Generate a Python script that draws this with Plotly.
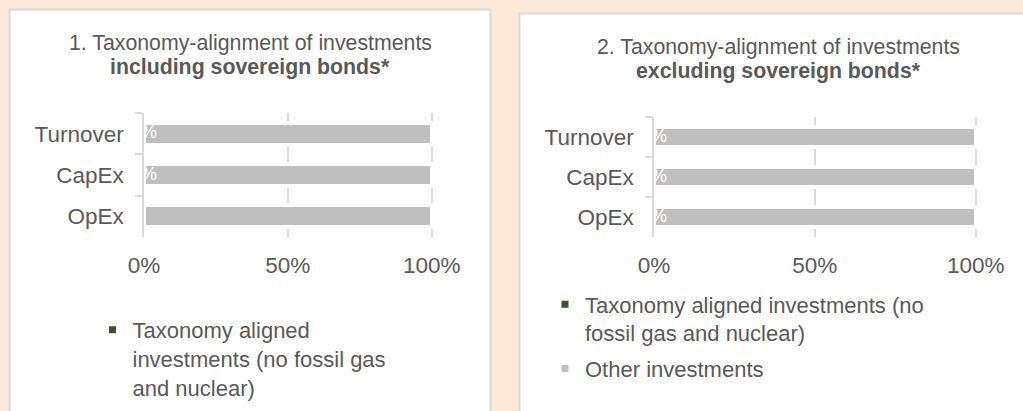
import plotly.graph_objects as go

W, H = 1023, 411

# ---------------- data ----------------
categories = ["Turnover", "CapEx", "OpEx"]
aligned_incl = [0, 0, 0]
other_incl = [100, 100, 100]
labels_incl = ["0%", "0%", ""]
aligned_excl = [0, 0, 0]
other_excl = [100, 100, 100]
labels_excl = ["0%", "0%", "0%"]
x_tickvals = [0, 50, 100]
x_ticktext = ["0%", "50%", "100%"]
series_names = ["Taxonomy aligned investments (no fossil gas and nuclear)", "Other investments"]
legend_text_incl = ["Taxonomy aligned<br>investments (no fossil gas<br>and nuclear)", "Other investments"]
legend_text_excl = ["Taxonomy aligned investments (no<br>fossil gas and nuclear)", "Other investments"]
title_line1 = ["1. Taxonomy-alignment of investments", "2. Taxonomy-alignment of investments"]
title_line2 = ["including sovereign bonds*", "excluding sovereign bonds*"]

# ---------------- style ----------------
GREEN = "#375623"
GREY = "#BFBFBF"
TEXT = "#595959"
LINE = "#D9D9D9"
BG = "#FBE8D8"
FONT = "Liberation Sans, Arial, sans-serif"


def px(x):
    return x / W


def py(y):
    return 1 - y / H


# plot-area geometry (pixels): x of 0%, x of 100%, top, bottom
geo = [(144, 431.7, 113, 237), (654, 975.7, 117, 237)]
XMAX = 101
bar_width = [0.53, 0.50]

fig = go.Figure()

panels = [
    (aligned_incl, other_incl, labels_incl, legend_text_incl, "x", "y", "legend"),
    (aligned_excl, other_excl, labels_excl, legend_text_excl, "x2", "y2", "legend2"),
]

for i, (al, ot, lab, legtxt, xa, ya, leg) in enumerate(panels):
    fig.add_trace(go.Bar(
        y=categories, x=al, orientation="h", name=series_names[0],
        marker=dict(color=GREEN, line=dict(color="white", width=4)),
        width=bar_width[i], xaxis=xa, yaxis=ya, showlegend=False,
        legendgroup=f"a{i}", hoverinfo="skip"))
    fig.add_trace(go.Bar(
        y=categories, x=ot, orientation="h", name=series_names[1],
        marker=dict(color=GREY, line=dict(color="white", width=4)),
        width=bar_width[i], xaxis=xa, yaxis=ya, showlegend=False,
        legendgroup=f"o{i}", hoverinfo="skip"))
    fig.add_trace(go.Scatter(
        y=categories, x=al, mode="text", text=lab,
        textposition="middle center",
        textfont=dict(color="white", size=18, family=FONT),
        xaxis=xa, yaxis=ya, showlegend=False, hoverinfo="skip"))
    # legend entries
    fig.add_trace(go.Scatter(
        x=[None], y=[None], mode="markers", name=legtxt[0],
        marker=dict(symbol="square", size=7, color=GREEN),
        xaxis=xa, yaxis=ya, legend=leg, legendgroup=f"a{i}", showlegend=True))
    fig.add_trace(go.Scatter(
        x=[None], y=[None], mode="markers", name=legtxt[1],
        marker=dict(symbol="square", size=7, color=GREY),
        xaxis=xa, yaxis=ya, legend=leg, legendgroup=f"o{i}",
        showlegend=(i == 1)))

# panels
shapes = [
    dict(type="rect", xref="paper", yref="paper",
         x0=px(9.5), x1=px(490.5), y0=py(9.5), y1=py(430),
         fillcolor="white", line=dict(color=LINE, width=2), layer="below"),
    dict(type="rect", xref="paper", yref="paper",
         x0=px(519.5), x1=px(1040), y0=py(13.5), y1=py(430),
         fillcolor="white", line=dict(color=LINE, width=2), layer="below"),
]

annotations = []
title_pos = [(250, 43, 67), (778, 47, 71)]
for i in range(2):
    cx, y1, y2 = title_pos[i]
    annotations.append(dict(xref="paper", yref="paper", x=px(cx), y=py(y1),
                            xanchor="center", yanchor="middle", showarrow=False,
                            text=title_line1[i], font=dict(size=21.3, color=TEXT, family=FONT)))
    annotations.append(dict(xref="paper", yref="paper", x=px(cx), y=py(y2),
                            xanchor="center", yanchor="middle", showarrow=False,
                            text="<b>" + title_line2[i] + "</b>",
                            font=dict(size=21.3, color=TEXT, family=FONT)))

axis_common_x = dict(
    range=[0, XMAX], tickvals=x_tickvals, ticktext=x_ticktext,
    showgrid=True, gridcolor=LINE, gridwidth=1.5, zeroline=False,
    showline=False, ticks="", ticklabelstandoff=12, automargin=False,
    tickfont=dict(size=22.5, color=TEXT, family=FONT), fixedrange=True)
axis_common_y = dict(
    type="category", categoryorder="array", categoryarray=categories,
    autorange="reversed", showgrid=False, zeroline=False,
    showline=True, linecolor=LINE, linewidth=1.5,
    ticks="outside", tickson="boundaries", ticklen=7, tickcolor=LINE, tickwidth=1.5,
    ticklabelstandoff=14, automargin=False,
    tickfont=dict(size=22.5, color=TEXT, family=FONT), fixedrange=True)

layout_axes = {}
for i, (x0, x100, top, bot) in enumerate(geo):
    sfx = "" if i == 0 else "2"
    xr = x0 + (x100 - x0) * XMAX / 100
    layout_axes["xaxis" + sfx] = dict(axis_common_x, domain=[px(x0), px(xr)],
                                      anchor="y" + sfx)
    layout_axes["yaxis" + sfx] = dict(axis_common_y, domain=[py(bot), py(top)],
                                      anchor="x" + sfx)

legend_common = dict(
    xanchor="left", yanchor="top", bgcolor="rgba(0,0,0,0)",
    font=dict(size=22, color=TEXT, family=FONT), valign="top",
    traceorder="grouped", tracegroupgap=4, itemclick=False, itemdoubleclick=False)

fig.update_layout(
    width=W, height=H,
    margin=dict(l=0, r=0, t=0, b=0, pad=0, autoexpand=False),
    paper_bgcolor=BG, plot_bgcolor="rgba(0,0,0,0)",
    barmode="stack", shapes=shapes, annotations=annotations,
    legend=dict(legend_common, x=px(92.5), y=py(309)),
    legend2=dict(legend_common, x=px(545), y=py(283.5)),
    font=dict(family=FONT, color=TEXT),
    hovermode=False,
    **layout_axes,
)

fig.write_html(
    "out.html",
    config={"displayModeBar": False, "staticPlot": False},
    post_script="document.body.style.margin='0';document.body.style.background='%s';" % BG,
)
